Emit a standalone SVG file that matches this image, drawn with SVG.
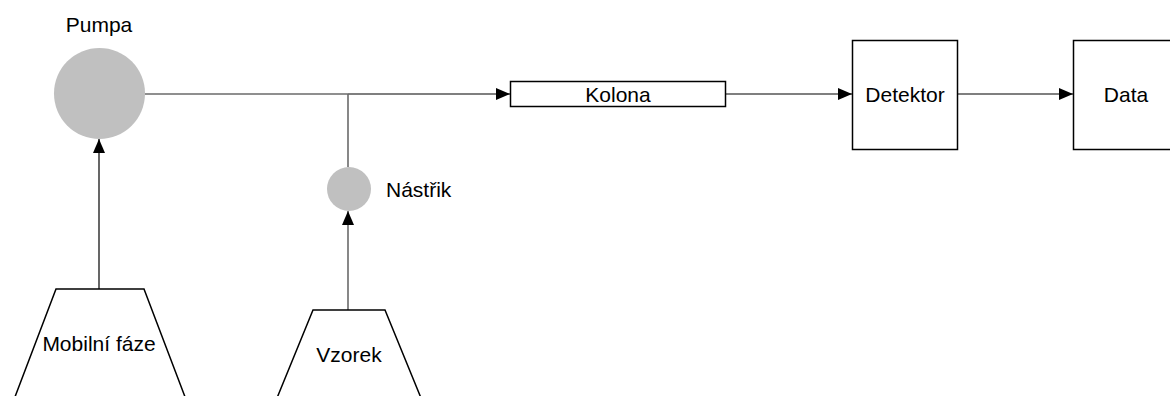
<svg xmlns="http://www.w3.org/2000/svg" width="1170" height="396" viewBox="0 0 1170 396">
<style>
text{font-family:"Liberation Sans",Arial,sans-serif;font-size:21px;fill:#000}
.box{fill:#fff;stroke:#000;stroke-width:1.5}
.disc{fill:#c0c0c0;stroke:none}
.ln{fill:none;stroke:#000;stroke-width:1.2}
.gr{fill:none;stroke:#6a6a6a;stroke-width:1.6}
</style>
<defs>
<marker id="ah" viewBox="0 0 14 12" refX="14" refY="6" markerWidth="14" markerHeight="12" markerUnits="userSpaceOnUse" orient="auto">
<path d="M0,0 L14,6 L0,12 Z" fill="#000"/>
</marker>
</defs>
<g id="connectors">
<line class="gr" x1="145" y1="94" x2="348" y2="94"/>
<line class="ln" x1="348" y1="94" x2="510" y2="94" marker-end="url(#ah)"/>
<line class="gr" x1="348" y1="94" x2="348" y2="167"/>
<line class="ln" x1="726" y1="94" x2="852" y2="94" marker-end="url(#ah)"/>
<line class="ln" x1="958" y1="94" x2="1073" y2="94" marker-end="url(#ah)"/>
<line class="ln" x1="99" y1="289" x2="99" y2="139" marker-end="url(#ah)"/>
<line class="gr" x1="348" y1="310" x2="348" y2="211" marker-end="url(#ah)"/>
</g>
<g id="pumpa">
<circle class="disc" cx="99.5" cy="93.5" r="45.5"/>
<text x="99" y="32" text-anchor="middle">Pumpa</text>
</g>
<g id="kolona">
<rect class="box" x="510.5" y="81.5" width="215" height="25"/>
<text x="618" y="101.5" text-anchor="middle">Kolona</text>
</g>
<g id="detektor">
<rect class="box" x="852.5" y="40.5" width="105" height="109"/>
<text x="905" y="101.5" text-anchor="middle">Detektor</text>
</g>
<g id="data">
<rect class="box" x="1073.5" y="40.5" width="105" height="109"/>
<text x="1126" y="101.5" text-anchor="middle">Data</text>
</g>
<g id="nastrik">
<circle class="disc" cx="349" cy="189" r="22"/>
<text x="386" y="197">Nástřik</text>
</g>
<g id="mobilni-faze">
<path class="box" d="M56,289 L144,289 L190,410 L10,410 Z"/>
<text x="99" y="351" text-anchor="middle">Mobilní fáze</text>
</g>
<g id="vzorek">
<path class="box" d="M313,310 L385,310 L430,420 L268,420 Z"/>
<text x="349" y="362" text-anchor="middle">Vzorek</text>
</g>
</svg>
